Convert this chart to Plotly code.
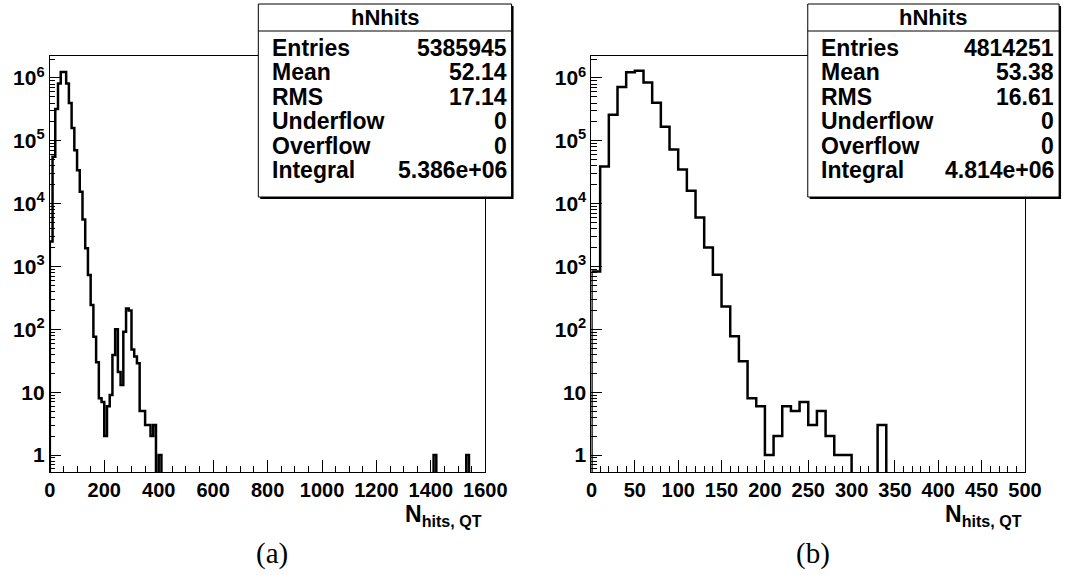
import plotly.graph_objects as go

# ---------------- data ----------------
BIN_WIDTH = 10
left_bin_low = list(range(0, 410, 10))
left_counts = [2500, 56000, 320000, 820000, 1250000, 1250000, 820000, 400000, 160000, 71000,
               34000, 15500, 5600, 1950, 730, 245, 76, 30, 8, 7,
               2, 6, 9, 39, 100, 21, 13, 92, 215, 200,
               48, 37, 29, 5, 5, 3, 3, 2, 3, 0,
               1]
left_extra_bin_low = [1410, 1530]
left_extra_counts = [1, 1]
left_xmax = 1600

right_bin_low = list(range(0, 500, 10))
right_counts = [830, 39000, 260000, 720000, 1230000, 1300000, 850000, 405000, 167000, 73000,
                35000, 16000, 6000, 2000, 740, 230, 78, 31, 8, 6,
                1, 2, 6, 5, 7, 3, 5, 2, 1, 1,
                0, 0, 0, 3, 0, 0, 0, 0, 0, 0,
                0, 0, 0, 0, 0, 0, 0, 0, 0, 0]
right_xmax = 500

stat_names = ["Entries", "Mean", "RMS", "Underflow", "Overflow", "Integral"]
left_stat_values = ["5385945", "52.14", "17.14", "0", "0", "5.386e+06"]
right_stat_values = ["4814251", "53.38", "16.61", "0", "0", "4.814e+06"]
stat_title = "hNhits"

left_xticks = [0, 200, 400, 600, 800, 1000, 1200, 1400, 1600]
right_xticks = [0, 50, 100, 150, 200, 250, 300, 350, 400, 450, 500]
y_tickvals = [1, 10, 100, 1000, 10000, 100000, 1000000]
y_ticktext = ["1", "10", "10<sup>2</sup>", "10<sup>3</sup>", "10<sup>4</sup>", "10<sup>5</sup>", "10<sup>6</sup>"]
x_title = "N<sub>hits, QT</sub>"
panel_labels = ["(a)", "(b)"]

# ---------------- layout geometry (pixels) ----------------
W, H = 1085, 575
FLOOR = 1e-3


def px_x(x):
    return x / W


def px_y(y):
    return 1 - y / H


def bold(s):
    return "<b>" + s + "</b>"


def step_xy(lows, counts, width):
    xs = [lows[0]]
    ys = [FLOOR]
    for lo, c in zip(lows, counts):
        xs.append(lo)
        ys.append(c if c > 0 else FLOOR)
    xs.append(lows[-1] + width)
    ys.append(ys[-1])
    xs.append(lows[-1] + width)
    ys.append(FLOOR)
    return xs, ys


# full left histogram
left_all_low = list(range(0, left_xmax, BIN_WIDTH))
left_all = [0] * len(left_all_low)
for lo, c in zip(left_bin_low, left_counts):
    left_all[lo // BIN_WIDTH] = c
for lo, c in zip(left_extra_bin_low, left_extra_counts):
    left_all[lo // BIN_WIDTH] = c

lx, ly = step_xy(left_all_low, left_all, BIN_WIDTH)
rx, ry = step_xy(right_bin_low, right_counts, BIN_WIDTH)

fig = go.Figure()
fig.add_trace(go.Scatter(x=lx, y=ly, mode="lines", line=dict(color="black", width=2.5, shape="hv"),
                         xaxis="x", yaxis="y", showlegend=False, hoverinfo="skip"))
fig.add_trace(go.Scatter(x=rx, y=ry, mode="lines", line=dict(color="black", width=2.5, shape="hv"),
                         xaxis="x2", yaxis="y2", showlegend=False, hoverinfo="skip"))

FONT = "Liberation Sans"
xtickfont = dict(family=FONT, size=20, color="black")
ytickfont = dict(family=FONT, size=21, color="black")

y_minor = [m * 10 ** e for e in range(-1, 7) for m in range(2, 10)]

common_x = dict(ticks="inside", ticklen=12, tickwidth=1, tickcolor="black", showline=True,
                linecolor="black", linewidth=1, mirror=True, showgrid=False, zeroline=False,
                tickfont=xtickfont, tickmode="array", fixedrange=True)
common_y = dict(type="log", range=[-0.27, 6.35], ticks="inside", ticklen=11, tickwidth=1,
                tickcolor="black", showline=True, linecolor="black", linewidth=1, mirror=True,
                showgrid=False, zeroline=False, tickfont=ytickfont, tickmode="array",
                tickvals=y_tickvals, ticktext=[bold(t) for t in y_ticktext],
                minor=dict(tickmode="array", tickvals=y_minor, ticks="inside", ticklen=5.5,
                           tickcolor="black", tickwidth=1, showgrid=False),
                domain=[px_y(472), px_y(56)], fixedrange=True)

left_minor = list(range(0, left_xmax + 1, 50))
right_minor = list(range(0, right_xmax + 1, 10))

fig.update_layout(
    width=W, height=H,
    margin=dict(l=0, r=0, t=0, b=0),
    paper_bgcolor="white", plot_bgcolor="white",
    xaxis=dict(common_x, domain=[px_x(45), px_x(492)], range=[0, left_xmax], anchor="y",
               tickvals=left_xticks, ticktext=[bold(str(v)) for v in left_xticks],
               minor=dict(tickmode="array", tickvals=left_minor, ticks="inside", ticklen=6,
                          tickcolor="black", tickwidth=1, showgrid=False)),
    yaxis=dict(common_y, anchor="x"),
    xaxis2=dict(common_x, domain=[px_x(601), px_x(1046)], range=[0, right_xmax], anchor="y2",
                tickvals=right_xticks, ticktext=[bold(str(v)) for v in right_xticks],
                minor=dict(tickmode="array", tickvals=right_minor, ticks="inside", ticklen=6,
                           tickcolor="black", tickwidth=1, showgrid=False)),
    yaxis2=dict(common_y, anchor="x2"),
)

shapes = []
annotations = []

# stats boxes
boxes = [(259, 519, left_stat_values), (823, 1081, right_stat_values)]
BOX_TOP, BOX_BOT, SEP = 4, 197, 31
row_centers = [48, 72, 97, 121, 146, 170]
for (bx0, bx1, vals) in boxes:
    shapes.append(dict(type="rect", xref="paper", yref="paper", x0=px_x(bx0 + 2), x1=px_x(bx1 + 2),
                       y0=px_y(BOX_BOT + 2), y1=px_y(BOX_TOP + 2), fillcolor="black",
                       line=dict(width=0), layer="above"))
    shapes.append(dict(type="rect", xref="paper", yref="paper", x0=px_x(bx0), x1=px_x(bx1),
                       y0=px_y(BOX_BOT), y1=px_y(BOX_TOP), fillcolor="white",
                       line=dict(color="black", width=1), layer="above"))
    shapes.append(dict(type="line", xref="paper", yref="paper", x0=px_x(bx0), x1=px_x(bx1),
                       y0=px_y(SEP), y1=px_y(SEP), line=dict(color="black", width=1), layer="above"))
    annotations.append(dict(xref="paper", yref="paper", x=px_x((bx0 + bx1) / 2), y=px_y(18),
                            text=bold(stat_title), showarrow=False, xanchor="center", yanchor="middle",
                            font=dict(family=FONT, size=22, color="black")))
    for name, val, yc in zip(stat_names, vals, row_centers):
        annotations.append(dict(xref="paper", yref="paper", x=px_x(bx0 + 12), y=px_y(yc),
                                text=bold(name), showarrow=False, xanchor="left", yanchor="middle",
                                font=dict(family=FONT, size=23, color="black")))
        annotations.append(dict(xref="paper", yref="paper", x=px_x(bx1 - 3), y=px_y(yc),
                                text=bold(val), showarrow=False, xanchor="right", yanchor="middle",
                                font=dict(family=FONT, size=23, color="black")))

# axis titles
for xr in (491, 1045):
    annotations.append(dict(xref="paper", yref="paper", x=px_x(xr), y=px_y(499), text=bold(x_title),
                            showarrow=False, xanchor="right", yanchor="top",
                            font=dict(family=FONT, size=23, color="black")))

# panel labels
for xc, lab in zip((273, 828), panel_labels):
    annotations.append(dict(xref="paper", yref="paper", x=px_x(xc), y=px_y(553), text=lab,
                            showarrow=False, xanchor="center", yanchor="middle",
                            font=dict(family="Liberation Serif", size=29, color="black")))

fig.update_layout(shapes=shapes, annotations=annotations)
fig.write_html("out.html")
